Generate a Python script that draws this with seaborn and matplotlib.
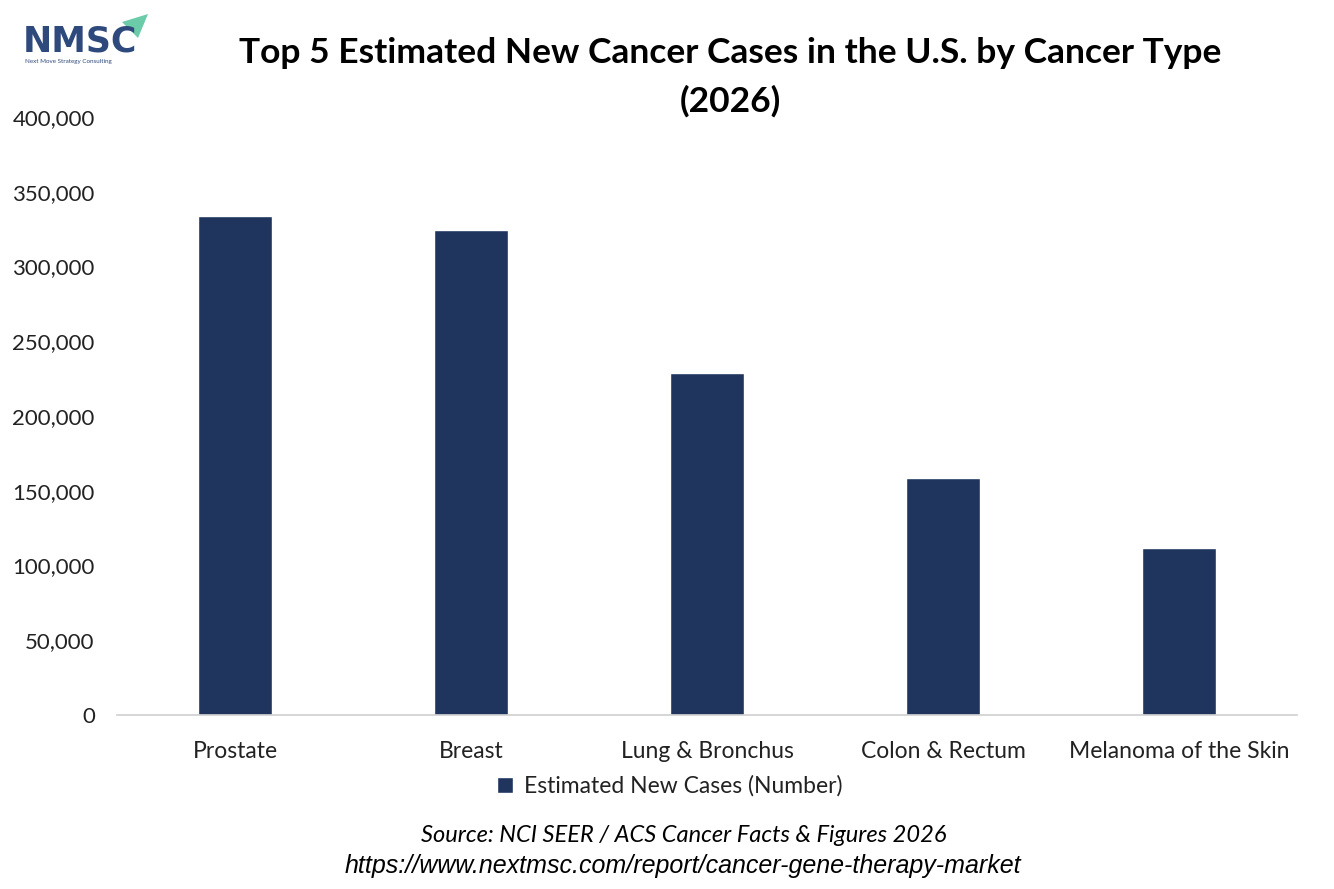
import matplotlib
matplotlib.use('Agg')
import matplotlib.pyplot as plt
from matplotlib.patches import Polygon
from matplotlib.ticker import FuncFormatter
import pandas as pd
import seaborn as sns

cancer_types = ['Prostate', 'Breast', 'Lung & Bronchus', 'Colon & Rectum', 'Melanoma of the Skin']
new_cases = [333830, 324500, 228800, 158500, 111700]
series_name = 'Estimated New Cases (Number)'
y_ticks = [0, 50000, 100000, 150000, 200000, 250000, 300000, 350000, 400000]

BAR_COLOR = '#1F355E'
FONT = ['Lato', 'DejaVu Sans']

sns.set_theme(style='white')
plt.rcParams['font.family'] = FONT

df = pd.DataFrame({'Cancer Type': cancer_types, series_name: new_cases})

fig = plt.figure(figsize=(13.34, 8.89), dpi=100)
ax = fig.add_axes([117 / 1334, 1 - 715 / 889, 1180 / 1334, 598 / 889])

sns.barplot(data=df, x='Cancer Type', y=series_name, color=BAR_COLOR,
            width=0.315, saturation=1, ax=ax, label=series_name)

ax.set_ylim(0, 400000)
ax.set_xlim(-0.5, len(cancer_types) - 0.5)
ax.set_yticks(y_ticks)
ax.yaxis.set_major_formatter(FuncFormatter(lambda v, p: f'{int(v):,}'))
ax.tick_params(axis='both', colors='#222222', length=0)
ax.tick_params(axis='y', pad=16, labelsize=16)
ax.tick_params(axis='x', pad=19, labelsize=16.5)
ax.set_xlabel('')
ax.set_ylabel('')
for side in ['left', 'right', 'top']:
    ax.spines[side].set_visible(False)
ax.spines['bottom'].set_color('#D0D0D0')
ax.spines['bottom'].set_linewidth(1.2)

leg = ax.legend(loc='center', bbox_to_anchor=((670 - 117) / 1180, -(786 - 715) / 598),
                frameon=False, fontsize=16.5, handlelength=0.7, handleheight=0.7,
                handletextpad=0.5)
for t in leg.get_texts():
    t.set_color('#222222')

fig.text(730 / 1334, 1 - 53 / 889, 'Top 5 Estimated New Cancer Cases in the U.S. by Cancer Type',
         ha='center', va='center', fontsize=25.5, fontweight='bold', color='black')
fig.text(730 / 1334, 1 - 101 / 889, '(2026)',
         ha='center', va='center', fontsize=25.5, fontweight='bold', color='black')

fig.text(684 / 1334, 1 - 836 / 889, 'Source: NCI SEER / ACS Cancer Facts & Figures 2026',
         ha='center', va='center', fontsize=17, style='italic', color='black')
fig.text(683 / 1334, 1 - 866 / 889, 'https://www.nextmsc.com/report/cancer-gene-therapy-market',
         ha='center', va='center', fontsize=18, style='italic', color='black',
         family=['Liberation Sans', 'DejaVu Sans'])

# logo
fig.text(23 / 1334, 1 - 42 / 889, 'NMSC', ha='left', va='center', fontsize=25,
         fontweight='bold', color='#2E4A7D', family=['DejaVu Sans'])
fig.text(25 / 1334, 1 - 62 / 889, 'Next Move Strategy Consulting', ha='left', va='center',
         fontsize=4.5, color='#2E4A7D')
fig.patches.append(Polygon([(122 / 1334, 1 - 22 / 889), (148 / 1334, 1 - 14 / 889),
                            (138 / 1334, 1 - 38 / 889)], closed=True,
                           transform=fig.transFigure, facecolor='#6CCBA8', edgecolor='none'))

fig.savefig('out.png', dpi=100, facecolor='white')
